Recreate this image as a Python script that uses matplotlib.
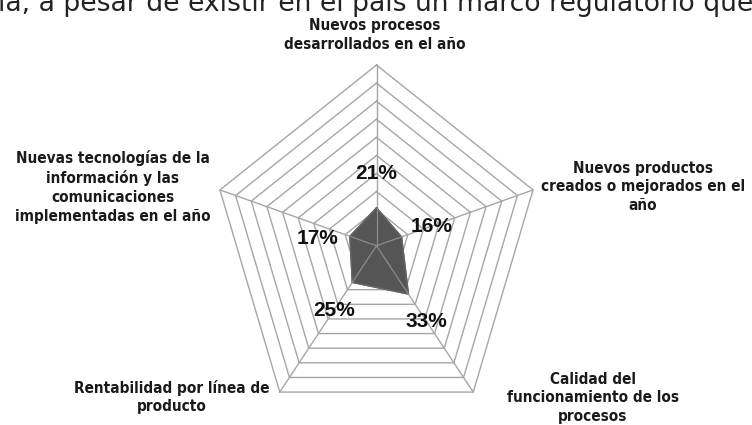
import numpy as np
import matplotlib
matplotlib.use("Agg")
import matplotlib.pyplot as plt
from matplotlib import font_manager

# ---- data ----
categories = [
    "Nuevos procesos\ndesarrollados en el año",
    "Nuevos productos\ncreados o mejorados en el\naño",
    "Calidad del\nfuncionamiento de los\nprocesos",
    "Rentabilidad por línea de\nproducto",
    "Nuevas tecnologías de la\ninformación y las\ncomunicaciones\nimplementadas en el año",
]
values = [21, 16, 33, 25, 17]
value_labels = ["21%", "16%", "33%", "25%", "17%"]
ring_levels = [10, 20, 30, 40, 50, 60, 70, 80, 90, 100]
header_text = "ía, a pesar de existir en el país un marco regulatorio que"

# pick a narrow font if one is installed
narrow_file = None
for f in font_manager.fontManager.ttflist:
    nm = (f.name + " " + f.fname).lower()
    if ("narrow" in nm or "condensed" in nm) and f.weight in (600, 700, "bold"):
        narrow_file = f.fname
        break
if narrow_file is None:
    for f in font_manager.fontManager.ttflist:
        nm = (f.name + " " + f.fname).lower()
        if "narrow" in nm or "condensed" in nm:
            narrow_file = f.fname
            break

W, H = 752, 425
fig = plt.figure(figsize=(W / 100, H / 100), dpi=100)
fig.patch.set_facecolor("white")

cx, cy = 376.5, 245.8
Ry, Rx = 180.8, 164.6
ax = fig.add_axes([(cx - Rx) / W, (H - cy - Ry) / H, 2 * Rx / W, 2 * Ry / H],
                  projection="polar")
ax.set_aspect("auto")
ax.set_theta_zero_location("N")
ax.set_theta_direction(-1)
ax.set_ylim(0, 100)
ax.set_axis_off()

n = len(categories)
theta = np.linspace(0, 2 * np.pi, n, endpoint=False)
theta_c = np.append(theta, theta[0])

grid_col = "#a6a6a6"
for r in ring_levels:
    ax.plot(theta_c, [r] * (n + 1), color=grid_col, lw=1.0, zorder=1, clip_on=False)

vals_c = np.append(values, values[0])
ax.fill(theta_c, vals_c, color="#555555", zorder=2, clip_on=False)
ax.plot(theta_c, vals_c, color="#666666", lw=1.0, zorder=3, clip_on=False)

for t, v in zip(theta, values):
    ax.plot([t, t], [0, ring_levels[-1]], color=grid_col, lw=1.0, zorder=1, clip_on=False)
    ax.plot([t, t], [0, v], color="#8c8c8c", lw=0.9, zorder=4, clip_on=False)

# data labels
label_shift = [0, 0, 0, 0, -12]
for t, v, lab, s in zip(theta, values, value_labels, label_shift):
    ax.text(t + np.deg2rad(s), v + 19, lab, ha="center", va="center",
            fontsize=15, fontweight="bold", family=["Liberation Sans", "DejaVu Sans"],
            color="#111111", zorder=5)

# category labels
cat_pos = [(375, 35), (643, 187), (593, 398), (172, 397), (113, 187)]
if narrow_file is not None:
    cat_font = dict(fontproperties=font_manager.FontProperties(fname=narrow_file, size=11))
else:
    cat_font = dict(fontsize=9, fontweight="bold", family=["Liberation Sans", "DejaVu Sans"])
for lab, (px, py) in zip(categories, cat_pos):
    fig.text(px / W, 1 - py / H, lab, ha="center", va="center", multialignment="center",
             linespacing=1.32, color="#1a1a1a", **cat_font)

# cut-off document line at the top
fig.text(-2 / W, 1 - 11 / H, header_text, ha="left", va="baseline",
         fontsize=19.2, family="DejaVu Sans", color="#222222")

fig.savefig("out.png", dpi=100, facecolor="white")
